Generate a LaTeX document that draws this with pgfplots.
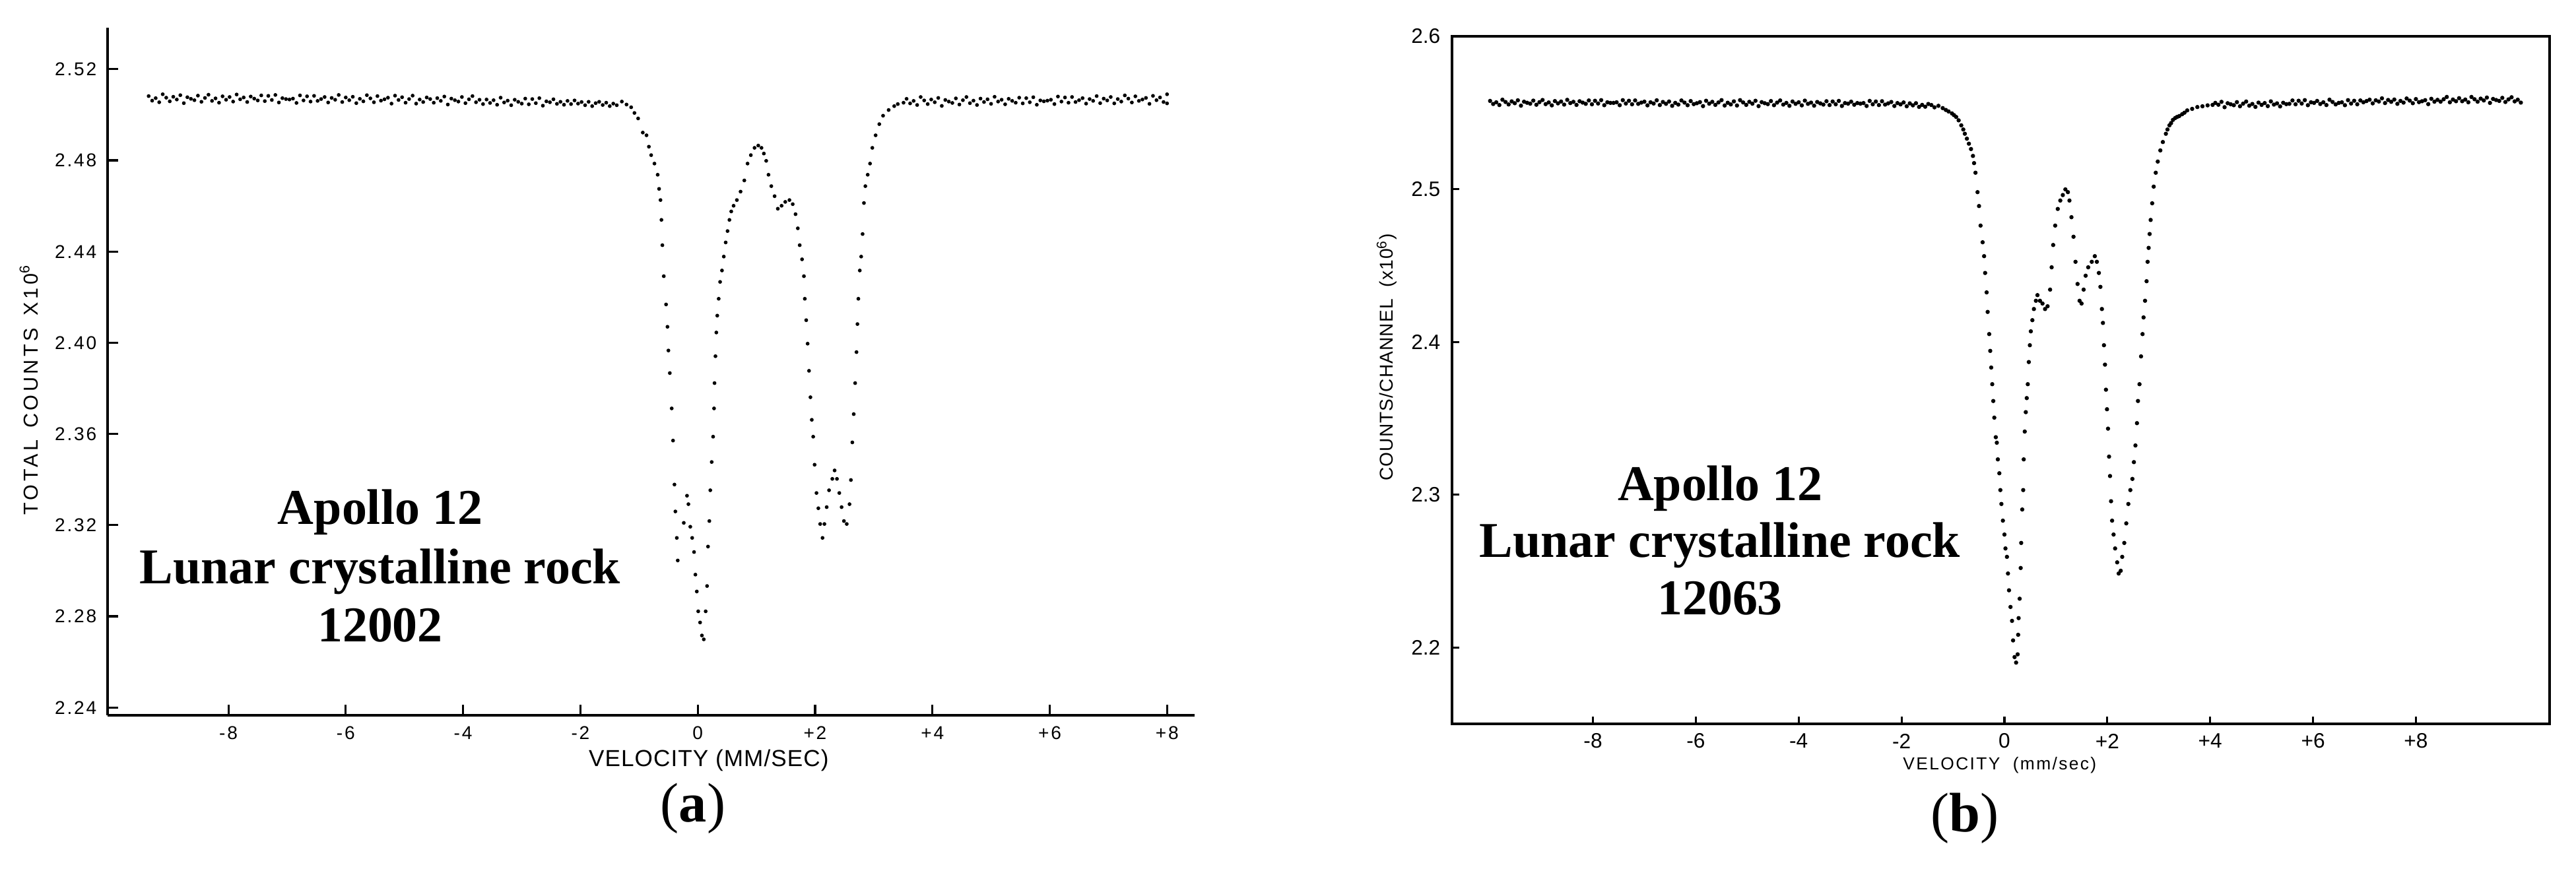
\documentclass[border=0pt]{standalone}
\usepackage{fontspec}
\usepackage{pgfplots}
\pgfplotsset{compat=1.18}
\setmainfont{Liberation Sans}
\newfontfamily\labA[LetterSpace=10]{Liberation Sans}
\newfontfamily\labAy[LetterSpace=15]{Liberation Sans}
\newfontfamily\labAx[LetterSpace=3]{Liberation Sans}
\newfontfamily\labB[LetterSpace=4]{Liberation Sans}
\newfontfamily\labBx[LetterSpace=9]{Liberation Sans}
\newfontfamily\tms{Liberation Serif}
\begin{document}
\begin{tikzpicture}[x=1cm,y=1cm]
\path[use as bounding box] (0,0) rectangle (39.03,13.20);
% ---------------- panel (a) ----------------
\begin{axis}[
 at={(1.63cm,2.36cm)}, anchor=south west, scale only axis,
 width=16.47cm, height=10.42cm,
 xmin=-10.06, xmax=8.47, ymin=2.2366, ymax=2.5382,
 axis x line=bottom, axis y line=left,
 axis line style={-, line width=1pt},
 tick align=inside, major tick length=0.16cm,
 tick style={line width=0.9pt, black},
 xtick={-8,-6,-4,-2,0,2,4,6,8},
 xticklabels={-8,-6,-4,-2,0,+2,+4,+6,+8},
 ytick={2.24,2.28,2.32,2.36,2.40,2.44,2.48,2.52},
 yticklabels={2.24,2.28,2.32,2.36,2.40,2.44,2.48,2.52},
 xticklabel style={font=\labA\fontsize{8}{10}\selectfont, inner sep=0pt, anchor=center, yshift=-0.27cm},
 yticklabel style={font=\labA\fontsize{8}{10}\selectfont, inner sep=0pt, anchor=east, xshift=-0.16cm},
 xlabel={VELOCITY (MM/SEC)},
 xlabel style={at={(axis description cs:0.553,-0.0653)}, anchor=center, font=\labAx\fontsize{10}{12}\selectfont},
 ylabel={TOTAL\, COUNTS\, X10\textsuperscript{6}},
 ylabel style={at={(axis description cs:-0.0723,0.473)}, anchor=center, font=\labAy\fontsize{8.7}{10}\selectfont},
]
\addplot[only marks, mark=*, mark size=0.6pt, mark options={draw=none, fill=black}] coordinates {
(-9.36,2.5082) (-9.30,2.5062) (-9.24,2.5073) (-9.18,2.5055) (-9.12,2.5090) (-9.06,2.5075) (-9.00,2.5059) (-8.94,2.5079) (-8.88,2.5067) (-8.82,2.5086)
(-8.76,2.5051) (-8.70,2.5077) (-8.64,2.5070) (-8.58,2.5064) (-8.52,2.5084) (-8.46,2.5057) (-8.40,2.5074) (-8.34,2.5088) (-8.28,2.5061) (-8.22,2.5072)
(-8.16,2.5053) (-8.10,2.5081) (-8.04,2.5066) (-7.98,2.5078) (-7.92,2.5058) (-7.86,2.5089) (-7.80,2.5068) (-7.74,2.5076) (-7.68,2.5056) (-7.62,2.5080)
(-7.56,2.5071) (-7.50,2.5063) (-7.44,2.5085) (-7.38,2.5060) (-7.32,2.5083) (-7.26,2.5065) (-7.20,2.5087) (-7.14,2.5054) (-7.08,2.5073) (-7.02,2.5069)
(-6.96,2.5067) (-6.90,2.5071) (-6.84,2.5052) (-6.78,2.5085) (-6.72,2.5063) (-6.66,2.5081) (-6.60,2.5058) (-6.54,2.5083) (-6.48,2.5061) (-6.42,2.5069)
(-6.36,2.5078) (-6.30,2.5054) (-6.24,2.5074) (-6.18,2.5066) (-6.12,2.5087) (-6.06,2.5056) (-6.00,2.5076) (-5.94,2.5064) (-5.88,2.5079) (-5.82,2.5051)
(-5.76,2.5070) (-5.70,2.5059) (-5.64,2.5086) (-5.58,2.5072) (-5.52,2.5055) (-5.46,2.5082) (-5.40,2.5062) (-5.34,2.5068) (-5.28,2.5075) (-5.22,2.5049)
(-5.16,2.5084) (-5.10,2.5065) (-5.04,2.5077) (-4.98,2.5053) (-4.92,2.5069) (-4.86,2.5084) (-4.80,2.5049) (-4.74,2.5067) (-4.68,2.5056) (-4.62,2.5076)
(-4.56,2.5069) (-4.50,2.5053) (-4.44,2.5073) (-4.38,2.5061) (-4.32,2.5080) (-4.26,2.5045) (-4.20,2.5071) (-4.14,2.5064) (-4.08,2.5058) (-4.02,2.5078)
(-3.96,2.5051) (-3.90,2.5068) (-3.84,2.5082) (-3.78,2.5055) (-3.72,2.5066) (-3.66,2.5047) (-3.60,2.5067) (-3.54,2.5052) (-3.48,2.5064) (-3.42,2.5044)
(-3.36,2.5075) (-3.30,2.5054) (-3.24,2.5062) (-3.18,2.5042) (-3.12,2.5066) (-3.06,2.5057) (-3.00,2.5049) (-2.94,2.5071) (-2.88,2.5046) (-2.82,2.5069)
(-2.76,2.5051) (-2.70,2.5073) (-2.64,2.5040) (-2.58,2.5059) (-2.52,2.5055) (-2.46,2.5068) (-2.40,2.5048) (-2.34,2.5057) (-2.28,2.5044) (-2.22,2.5061)
(-2.16,2.5047) (-2.10,2.5063) (-2.04,2.5049) (-1.98,2.5056) (-1.92,2.5042) (-1.86,2.5057) (-1.80,2.5038) (-1.74,2.5051) (-1.68,2.5057) (-1.62,2.5043)
(-1.56,2.5053) (-1.50,2.5038) (-1.44,2.5049) (-1.38,2.5042)
(-1.294,2.5058) (-1.214,2.5045) (-1.135,2.5033) (-1.079,2.5008) (-1.016,2.4984) (-0.937,2.4922) (-0.873,2.4910) (-0.833,2.4860) (-0.794,2.4823) (-0.738,2.4786)
(-0.683,2.4737) (-0.659,2.4675) (-0.635,2.4626) (-0.619,2.4539) (-0.603,2.4428) (-0.579,2.4292) (-0.540,2.4168) (-0.516,2.4070) (-0.500,2.3966) (-0.476,2.3867)
(-0.444,2.3712) (-0.421,2.3571) (-0.397,2.3378) (-0.381,2.3260) (-0.357,2.3144) (-0.341,2.3045)
(-0.238,2.3210) (-0.183,2.3329) (-0.159,2.3292) (-0.127,2.3193) (-0.095,2.3144) (-0.063,2.3082) (-0.040,2.2983) (-0.016,2.2909) (0.008,2.2822) (0.040,2.2773)
(0.071,2.2716) (0.103,2.2699) (0.135,2.2822) (0.159,2.2933) (0.175,2.3106) (0.198,2.3218) (0.214,2.3353) (0.238,2.3477) (0.262,2.3588) (0.278,2.3712)
(0.286,2.3823) (0.302,2.3941) (0.317,2.4045) (0.333,2.4119) (0.357,2.4193) (0.381,2.4267) (0.413,2.4317) (0.444,2.4378) (0.476,2.4440) (0.508,2.4490)
(0.540,2.4539) (0.571,2.4576) (0.611,2.4601) (0.667,2.4626) (0.730,2.4663) (0.794,2.4712) (0.849,2.4786) (0.905,2.4823) (0.968,2.4855) (1.032,2.4865)
(1.087,2.4855) (1.127,2.4830) (1.167,2.4798) (1.206,2.4737) (1.254,2.4687) (1.310,2.4643) (1.365,2.4588) (1.429,2.4601) (1.492,2.4618) (1.563,2.4626)
(1.619,2.4608) (1.667,2.4564) (1.706,2.4502) (1.738,2.4428) (1.778,2.4366) (1.810,2.4292) (1.825,2.4193) (1.849,2.4099) (1.873,2.3996) (1.897,2.3877)
(1.921,2.3761) (1.944,2.3662) (1.968,2.3588) (1.992,2.3465) (2.024,2.3341) (2.056,2.3274) (2.087,2.3205) (2.127,2.3144) (2.159,2.3205) (2.198,2.3279)
(2.238,2.3353) (2.294,2.3403) (2.333,2.3440) (2.373,2.3403) (2.413,2.3341) (2.452,2.3279) (2.492,2.3218) (2.540,2.3205) (2.587,2.3292) (2.611,2.3398)
(2.635,2.3563) (2.659,2.3687) (2.683,2.3823) (2.706,2.3959) (2.722,2.4082) (2.738,2.4193) (2.762,2.4317) (2.786,2.4378) (2.810,2.4477) (2.833,2.4613)
(2.857,2.4687) (2.897,2.4737) (2.937,2.4786) (2.976,2.4855) (3.032,2.4910) (3.095,2.4959) (3.159,2.4996) (3.254,2.5021) (3.349,2.5038) (3.410,2.5047) (3.508,2.5053)
(3.56,2.5070) (3.62,2.5050) (3.68,2.5061) (3.74,2.5043) (3.80,2.5078) (3.86,2.5063) (3.92,2.5047) (3.98,2.5067) (4.04,2.5055) (4.10,2.5074)
(4.16,2.5039) (4.22,2.5065) (4.28,2.5058) (4.34,2.5052) (4.40,2.5072) (4.46,2.5045) (4.52,2.5064) (4.58,2.5078) (4.64,2.5051) (4.70,2.5062)
(4.76,2.5043) (4.82,2.5071) (4.88,2.5056) (4.94,2.5068) (5.00,2.5048) (5.06,2.5079) (5.12,2.5058) (5.18,2.5066) (5.24,2.5046) (5.30,2.5070)
(5.36,2.5061) (5.42,2.5053) (5.48,2.5075) (5.54,2.5050) (5.60,2.5073) (5.66,2.5055) (5.72,2.5077) (5.78,2.5044) (5.84,2.5063) (5.90,2.5059)
(5.96,2.5062) (6.02,2.5066) (6.08,2.5047) (6.14,2.5080) (6.20,2.5058) (6.26,2.5076) (6.32,2.5053) (6.38,2.5078) (6.44,2.5056) (6.50,2.5064)
(6.56,2.5073) (6.62,2.5049) (6.68,2.5069) (6.74,2.5061) (6.80,2.5082) (6.86,2.5051) (6.92,2.5071) (6.98,2.5063) (7.04,2.5078) (7.10,2.5050)
(7.16,2.5069) (7.22,2.5058) (7.28,2.5085) (7.34,2.5071) (7.40,2.5054) (7.46,2.5081) (7.52,2.5061) (7.58,2.5067) (7.64,2.5074) (7.70,2.5048)
(7.76,2.5083) (7.82,2.5064) (7.88,2.5076) (7.94,2.5056) (8.00,2.5090) (8.00,2.5050)
};
\end{axis}
% ---------------- panel (b) ----------------
\begin{axis}[
 at={(22.00cm,2.23cm)}, anchor=south west, scale only axis,
 width=16.63cm, height=10.42cm,
 xmin=-10.74, xmax=10.60, ymin=2.15, ymax=2.60,
 axis line style={line width=1pt},
 tick pos=left, tick align=inside, major tick length=0.11cm,
 tick style={line width=0.9pt, black},
 xtick={-8,-6,-4,-2,0,2,4,6,8},
 xticklabels={-8,-6,-4,-2,0,+2,+4,+6,+8},
 ytick={2.2,2.3,2.4,2.5,2.6},
 yticklabels={2.2,2.3,2.4,2.5,2.6},
 xticklabel style={font=\fontsize{9}{11}\selectfont, inner sep=0pt, anchor=center, yshift=-0.26cm},
 yticklabel style={font=\fontsize{9}{11}\selectfont, inner sep=0pt, anchor=east, xshift=-0.17cm},
 xlabel={VELOCITY\ \ (mm/sec)},
 xlabel style={at={(axis description cs:0.499,-0.0605)}, anchor=center, font=\labBx\fontsize{7.5}{9}\selectfont},
 ylabel={COUNTS/CHANNEL\ \ (x10\textsuperscript{6})},
 ylabel style={at={(axis description cs:-0.0595,0.533)}, anchor=center, font=\labB\fontsize{8}{10}\selectfont},
]
\addplot[only marks, mark=*, mark size=0.7pt, mark options={draw=none, fill=black}] coordinates {
(-10.00,2.5577) (-9.94,2.5557) (-9.88,2.5568) (-9.82,2.5550) (-9.76,2.5585) (-9.70,2.5570) (-9.64,2.5554) (-9.58,2.5574) (-9.52,2.5562) (-9.46,2.5581)
(-9.40,2.5546) (-9.34,2.5572) (-9.28,2.5565) (-9.22,2.5559) (-9.16,2.5579) (-9.10,2.5552) (-9.04,2.5569) (-8.98,2.5583) (-8.92,2.5556) (-8.86,2.5567)
(-8.80,2.5548) (-8.74,2.5576) (-8.68,2.5561) (-8.62,2.5573) (-8.56,2.5553) (-8.50,2.5584) (-8.44,2.5563) (-8.38,2.5571) (-8.32,2.5551) (-8.26,2.5575)
(-8.20,2.5566) (-8.14,2.5558) (-8.08,2.5580) (-8.02,2.5555) (-7.96,2.5578) (-7.90,2.5560) (-7.84,2.5582) (-7.78,2.5549) (-7.72,2.5568) (-7.66,2.5564)
(-7.60,2.5564) (-7.54,2.5568) (-7.48,2.5549) (-7.42,2.5582) (-7.36,2.5560) (-7.30,2.5578) (-7.24,2.5555) (-7.18,2.5580) (-7.12,2.5558) (-7.06,2.5566)
(-7.00,2.5572) (-6.94,2.5548) (-6.88,2.5568) (-6.82,2.5560) (-6.76,2.5581) (-6.70,2.5550) (-6.64,2.5570) (-6.58,2.5558) (-6.52,2.5573) (-6.46,2.5545)
(-6.40,2.5564) (-6.34,2.5553) (-6.28,2.5580) (-6.22,2.5566) (-6.16,2.5549) (-6.10,2.5576) (-6.04,2.5556) (-5.98,2.5562) (-5.92,2.5569) (-5.86,2.5543)
(-5.80,2.5578) (-5.74,2.5559) (-5.68,2.5571) (-5.62,2.5551) (-5.56,2.5567) (-5.50,2.5582) (-5.44,2.5547) (-5.38,2.5565) (-5.32,2.5554) (-5.26,2.5574)
(-5.20,2.5547) (-5.14,2.5582) (-5.08,2.5567) (-5.02,2.5551) (-4.96,2.5571) (-4.90,2.5559) (-4.84,2.5578) (-4.78,2.5543) (-4.72,2.5569) (-4.66,2.5562)
(-4.60,2.5556) (-4.54,2.5576) (-4.48,2.5549) (-4.42,2.5566) (-4.36,2.5580) (-4.30,2.5553) (-4.24,2.5564) (-4.18,2.5545) (-4.12,2.5573) (-4.06,2.5558)
(-4.00,2.5568) (-3.94,2.5548) (-3.88,2.5579) (-3.82,2.5558) (-3.76,2.5566) (-3.70,2.5546) (-3.64,2.5570) (-3.58,2.5561) (-3.52,2.5553) (-3.46,2.5575)
(-3.40,2.5550) (-3.34,2.5573) (-3.28,2.5555) (-3.22,2.5577) (-3.16,2.5544) (-3.10,2.5563) (-3.04,2.5559) (-2.98,2.5572) (-2.92,2.5552) (-2.86,2.5563)
(-2.80,2.5559) (-2.74,2.5563) (-2.68,2.5544) (-2.62,2.5577) (-2.56,2.5555) (-2.50,2.5573) (-2.44,2.5550) (-2.38,2.5575) (-2.32,2.5553) (-2.26,2.5561)
(-2.20,2.5570) (-2.14,2.5544) (-2.08,2.5563) (-2.02,2.5554) (-1.96,2.5567) (-1.90,2.5542) (-1.84,2.5561) (-1.78,2.5548) (-1.72,2.5562) (-1.66,2.5538)
(-1.60,2.5551) (-1.54,2.5539) (-1.48,2.5557) (-1.42,2.5550) (-1.36,2.5535)
(-1.283,2.5545) (-1.20,2.5530) (-1.14,2.5518) (-1.086,2.5508) (-1.02,2.5495) (-0.98,2.5484) (-0.938,2.5472) (-0.89,2.5450) (-0.839,2.5417) (-0.80,2.5390)
(-0.770,2.5362) (-0.73,2.5330) (-0.691,2.5297) (-0.65,2.5262) (-0.612,2.5217) (-0.59,2.5170) (-0.563,2.5107) (-0.523,2.4980) (-0.494,2.4889) (-0.464,2.4761)
(-0.424,2.4652) (-0.395,2.4561) (-0.375,2.4451) (-0.346,2.4324) (-0.326,2.4196) (-0.296,2.4051) (-0.276,2.3941) (-0.257,2.3832) (-0.237,2.3723) (-0.217,2.3613)
(-0.197,2.3504) (-0.168,2.3376) (-0.148,2.3340) (-0.128,2.3231) (-0.099,2.3140) (-0.079,2.3030) (-0.059,2.2939) (-0.030,2.2830) (0.000,2.2739) (0.020,2.2648)
(0.049,2.2593) (0.069,2.2484) (0.089,2.2374) (0.118,2.2265) (0.148,2.2174) (0.168,2.2046) (0.197,2.1937) (0.227,2.1901) (0.257,2.1955) (0.267,2.2083)
(0.276,2.2192) (0.296,2.2319) (0.316,2.2520) (0.326,2.2684) (0.346,2.2903) (0.365,2.3030) (0.375,2.3231) (0.395,2.3413) (0.415,2.3540) (0.434,2.3632)
(0.454,2.3723) (0.474,2.3868) (0.494,2.3978) (0.513,2.4069) (0.543,2.4142) (0.573,2.4215) (0.612,2.4269) (0.642,2.4306) (0.691,2.4269) (0.740,2.4251)
(0.790,2.4215) (0.839,2.4233) (0.888,2.4342) (0.918,2.4488) (0.948,2.4634) (0.987,2.4761) (1.037,2.4870) (1.086,2.4925) (1.135,2.4961) (1.185,2.4998)
(1.234,2.4980) (1.264,2.4925) (1.303,2.4816) (1.343,2.4688) (1.382,2.4524) (1.422,2.4379) (1.461,2.4269) (1.500,2.4251) (1.540,2.4342) (1.579,2.4433)
(1.629,2.4488) (1.698,2.4524) (1.757,2.4561) (1.797,2.4524) (1.836,2.4451) (1.866,2.4360) (1.895,2.4215) (1.915,2.4124) (1.935,2.3978) (1.955,2.3851)
(1.974,2.3687) (1.994,2.3559) (2.014,2.3432) (2.034,2.3249) (2.053,2.3122) (2.073,2.2957) (2.093,2.2830) (2.122,2.2739) (2.152,2.2648) (2.192,2.2557)
(2.221,2.2484) (2.261,2.2502) (2.290,2.2593) (2.330,2.2684) (2.369,2.2812) (2.409,2.2939) (2.448,2.3030) (2.488,2.3103) (2.517,2.3213) (2.547,2.3322)
(2.577,2.3468) (2.596,2.3613) (2.626,2.3723) (2.656,2.3905) (2.685,2.4051) (2.705,2.4160) (2.734,2.4269) (2.764,2.4397) (2.784,2.4524) (2.804,2.4615)
(2.823,2.4706) (2.843,2.4798) (2.873,2.4907) (2.902,2.5016) (2.942,2.5107) (2.981,2.5180) (3.031,2.5253) (3.080,2.5308) (3.139,2.5362) (3.17,2.5390)
(3.208,2.5417) (3.24,2.5432) (3.277,2.5453) (3.32,2.5465) (3.356,2.5472) (3.40,2.5478) (3.455,2.5490) (3.50,2.5500) (3.554,2.5515) (3.65,2.5525)
(3.751,2.5537) (3.85,2.5542) (3.95,2.5548) (4.047,2.5551)
(4.10,2.5564) (4.16,2.5552) (4.22,2.5571) (4.28,2.5536) (4.34,2.5562) (4.40,2.5555) (4.46,2.5549) (4.52,2.5569) (4.58,2.5542) (4.64,2.5559)
(4.70,2.5573) (4.76,2.5546) (4.82,2.5557) (4.88,2.5538) (4.94,2.5566) (5.00,2.5551) (5.06,2.5563) (5.12,2.5543) (5.18,2.5574) (5.24,2.5553)
(5.30,2.5561) (5.36,2.5541) (5.42,2.5565) (5.48,2.5556) (5.54,2.5558) (5.60,2.5580) (5.66,2.5555) (5.72,2.5578) (5.78,2.5560) (5.84,2.5582)
(5.90,2.5549) (5.96,2.5568) (6.02,2.5564) (6.08,2.5577) (6.14,2.5557) (6.20,2.5568) (6.26,2.5550) (6.32,2.5585) (6.38,2.5570) (6.44,2.5554)
(6.50,2.5564) (6.56,2.5568) (6.62,2.5549) (6.68,2.5582) (6.74,2.5560) (6.80,2.5578) (6.86,2.5555) (6.92,2.5580) (6.98,2.5568) (7.04,2.5576)
(7.10,2.5585) (7.16,2.5561) (7.22,2.5581) (7.28,2.5573) (7.34,2.5594) (7.40,2.5563) (7.46,2.5583) (7.52,2.5571) (7.58,2.5586) (7.64,2.5558)
(7.70,2.5577) (7.76,2.5566) (7.82,2.5593) (7.88,2.5579) (7.94,2.5562) (8.00,2.5589) (8.06,2.5569) (8.12,2.5575) (8.18,2.5582) (8.24,2.5556)
(8.30,2.5591) (8.36,2.5572) (8.42,2.5584) (8.48,2.5572) (8.54,2.5588) (8.60,2.5603) (8.66,2.5568) (8.72,2.5586) (8.78,2.5575) (8.84,2.5595)
(8.90,2.5575) (8.96,2.5586) (9.02,2.5568) (9.08,2.5603) (9.14,2.5588) (9.20,2.5572) (9.26,2.5592) (9.32,2.5580) (9.38,2.5599) (9.44,2.5564)
(9.50,2.5590) (9.56,2.5583) (9.62,2.5577) (9.68,2.5597) (9.74,2.5570) (9.80,2.5587) (9.86,2.5601) (9.92,2.5574) (9.98,2.5585) (10.04,2.5566)
};
\end{axis}
% ---------------- annotations ----------------
\begin{scope}[every node/.style={font=\tms\bfseries\fontsize{21.6}{25}\selectfont, anchor=base, inner sep=0pt}]
\node at (5.76,5.25) {Apollo 12};
\node at (5.76,4.35) {Lunar crystalline rock};
\node at (5.76,3.47) {12002};
\node at (26.06,5.61) {Apollo 12};
\node at (26.06,4.75) {Lunar crystalline rock};
\node at (26.06,3.88) {12063};
\end{scope}
\node[font=\tms\fontsize{24}{28}\selectfont, inner sep=0pt] at (10.50,0.95) {(\textbf{a})};
\node[font=\tms\fontsize{24}{28}\selectfont, inner sep=0pt] at (29.77,0.80) {(\textbf{b})};
\end{tikzpicture}
\end{document}
